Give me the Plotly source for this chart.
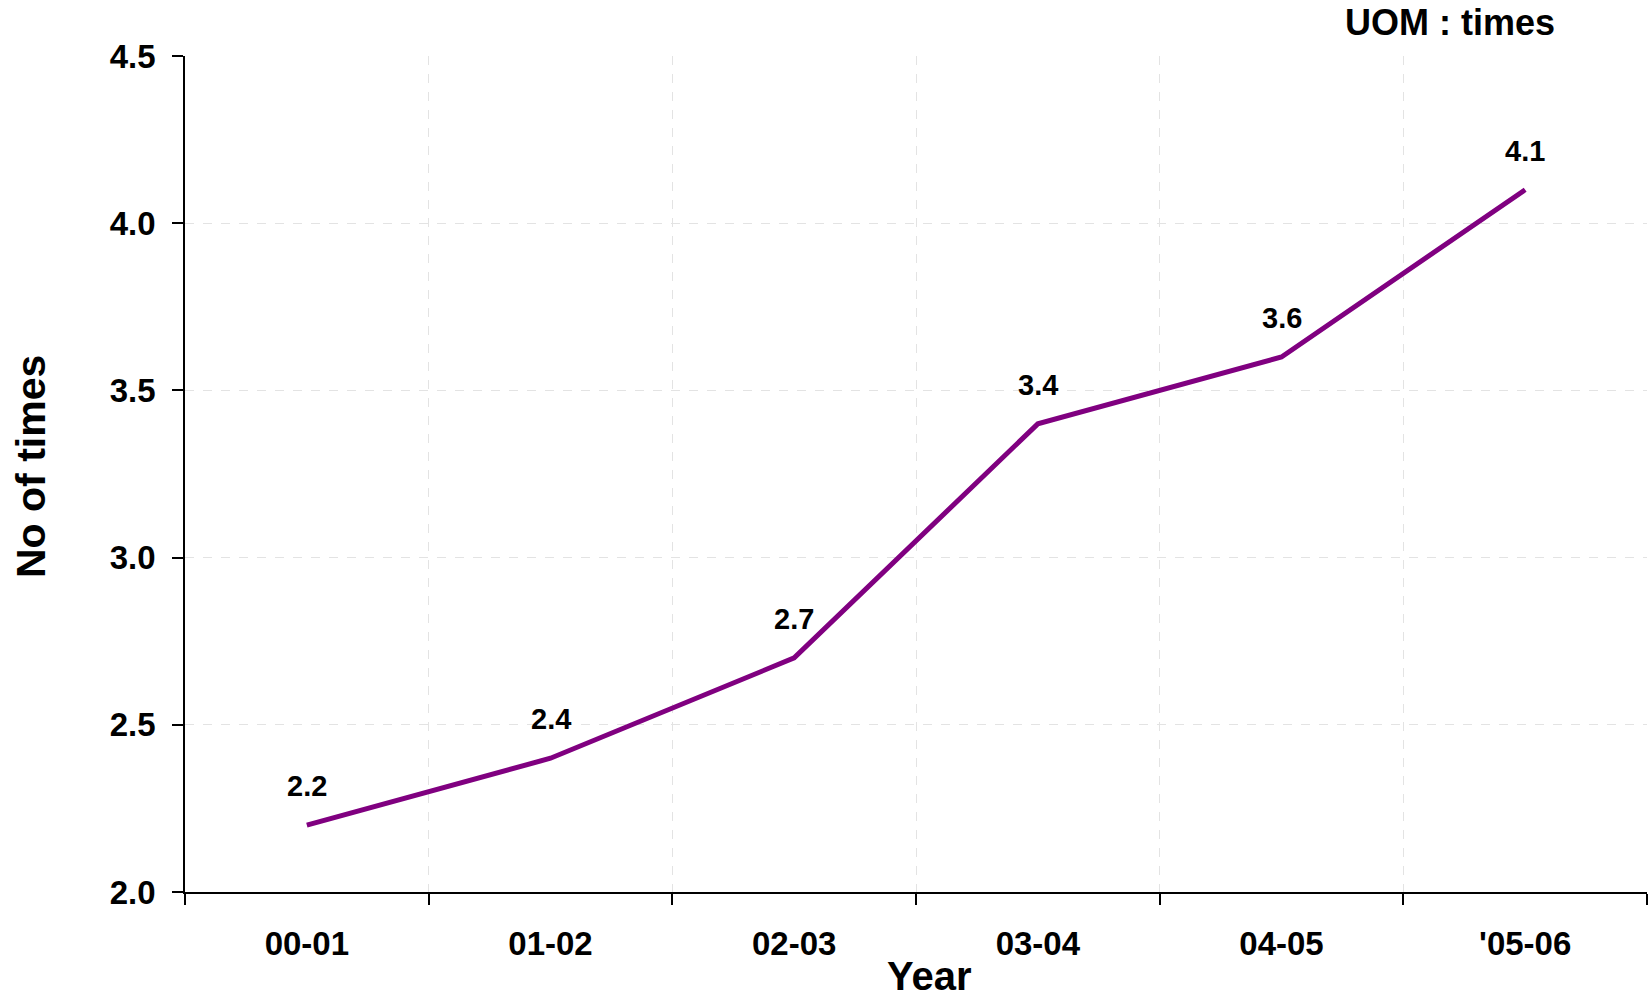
import plotly.graph_objects as go

# Yearly data
years = ["00-01", "01-02", "02-03", "03-04", "04-05", "'05-06"]
times = [2.2, 2.4, 2.7, 3.4, 3.6, 4.1]
y_ticks = [2.0, 2.5, 3.0, 3.5, 4.0, 4.5]

FONT = "Liberation Sans, Arial, sans-serif"
LINE_COLOR = "#800080"
GRID_COLOR = "#e3e3e3"

# Canvas and plot-area geometry (pixels)
W, H = 1649, 999
L, R, T, B = 185, 2, 56, 107
pw, ph = W - L - R, H - T - B


def px_x(x):
    return (x - L) / pw


def px_y(y):
    return (H - B - y) / ph


fig = go.Figure()
fig.add_trace(go.Scatter(
    x=years, y=times, mode="lines",
    line=dict(color=LINE_COLOR, width=5),
    hoverinfo="skip", showlegend=False,
))

# Value labels above each point
for yr, v in zip(years, times):
    fig.add_annotation(
        x=yr, y=v, text=f"{v:.1f}", showarrow=False,
        yshift=39, xanchor="center", yanchor="middle",
        font=dict(family=FONT, size=29, color="black", weight="bold"),
    )

# Axis titles and unit note
fig.add_annotation(
    x=px_x(929), y=px_y(976), xref="paper", yref="paper", text="Year",
    showarrow=False, xanchor="center", yanchor="middle",
    font=dict(family=FONT, size=40, color="black", weight="bold"),
)
fig.add_annotation(
    x=px_x(31), y=px_y(467), xref="paper", yref="paper", text="No of times",
    showarrow=False, textangle=-90, xanchor="center", yanchor="middle",
    font=dict(family=FONT, size=41, color="black", weight="bold"),
)
fig.add_annotation(
    x=px_x(1450), y=px_y(23), xref="paper", yref="paper", text="UOM : times",
    showarrow=False, xanchor="center", yanchor="middle",
    font=dict(family=FONT, size=36, color="black", weight="bold"),
)

fig.update_layout(
    width=W, height=H,
    margin=dict(l=L, r=R, t=T, b=B),
    paper_bgcolor="white", plot_bgcolor="white",
    font=dict(family=FONT, color="black"),
)

fig.update_xaxes(
    type="category", range=[-0.5, len(years) - 0.5],
    tickson="boundaries", ticks="outside", ticklen=11, tickwidth=1.5, tickcolor="black",
    showline=True, linecolor="black", linewidth=2,
    showgrid=True, gridcolor=GRID_COLOR, griddash="dash", gridwidth=1,
    tickfont=dict(family=FONT, size=33, color="black", weight="bold"),
    ticklabelstandoff=21, zeroline=False,
)
fig.update_yaxes(
    range=[2.0, 4.5], tickvals=y_ticks, ticktext=[f"{t:.1f}" for t in y_ticks],
    ticks="outside", ticklen=11, tickwidth=1.5, tickcolor="black",
    showline=True, linecolor="black", linewidth=1.5,
    showgrid=True, gridcolor=GRID_COLOR, griddash="dash", gridwidth=1,
    tickfont=dict(family=FONT, size=33, color="black", weight="bold"),
    ticklabelstandoff=10, zeroline=False,
)

fig.write_html("out.html")
